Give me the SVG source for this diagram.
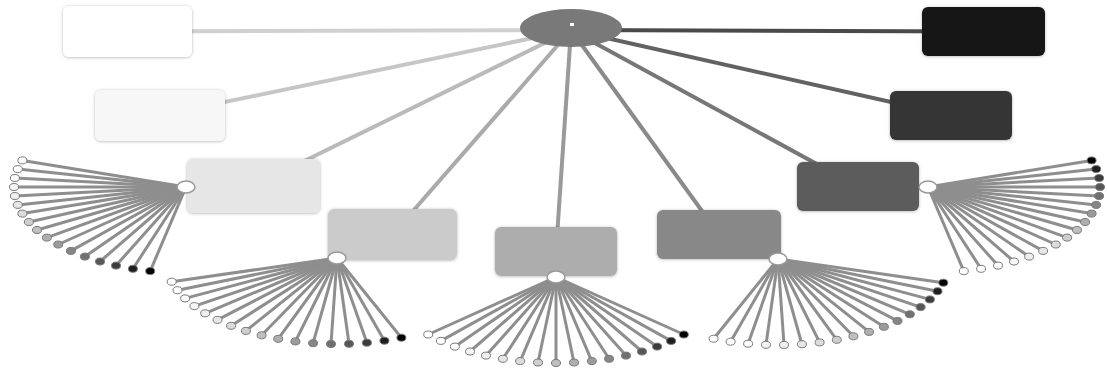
<svg xmlns="http://www.w3.org/2000/svg" width="1107" height="369" viewBox="0 0 1107 369">
<defs>
<filter id="sh" x="-10%" y="-15%" width="120%" height="135%">
<feDropShadow dx="0" dy="0.5" stdDeviation="1.4" flood-color="#000" flood-opacity="0.3"/>
</filter>
<style>
.main line{stroke-width:4;stroke-linecap:butt}
.node rect{filter:url(#sh)}
.sp line{stroke:#8e8e8e;stroke-width:3}
.hub{fill:#fff;stroke:#999;stroke-width:1.5}
.lf ellipse{stroke:#7a7a7a;stroke-width:1}
.c0{fill:#ffffff}.c1{fill:#fefefe}.c2{fill:#fbfbfb}.c3{fill:#f6f6f6}.c4{fill:#efefef}.c5{fill:#e6e6e6}.c6{fill:#dbdbdb}.c7{fill:#cecece}.c8{fill:#bfbfbf}.c9{fill:#aeaeae}.c10{fill:#9b9b9b}.c11{fill:#868686}.c12{fill:#707070}.c13{fill:#575757}.c14{fill:#3c3c3c}.c15{fill:#1f1f1f}.c16{fill:#000000}
</style>
</defs>
<rect width="1107" height="369" fill="#fff"/>
<g id="connectors" class="main">
<line x1="571" y1="30" x2="127.5" y2="31.5" stroke="#d0d0d0"/>
<line x1="571" y1="30" x2="160" y2="115.5" stroke="#c6c6c6"/>
<line x1="571" y1="30" x2="253.5" y2="186" stroke="#bababa"/>
<line x1="571" y1="30" x2="392.5" y2="234.5" stroke="#aaaaaa"/>
<line x1="571" y1="30" x2="556" y2="251.5" stroke="#9a9a9a"/>
<line x1="571" y1="30" x2="719" y2="234.5" stroke="#8a8a8a"/>
<line x1="571" y1="30" x2="858" y2="186.5" stroke="#777777"/>
<line x1="571" y1="30" x2="951" y2="115.5" stroke="#626262"/>
<line x1="571" y1="30" x2="983.5" y2="31.5" stroke="#4a4a4a"/>
</g>
<g id="root">
<ellipse cx="571" cy="28" rx="51" ry="19" fill="#797979"/>
<rect x="570" y="23" width="4" height="3" fill="#fff"/>
</g>
<g id="n1" class="node"><rect x="63" y="6" width="129" height="51" rx="6" fill="#ffffff"/></g>
<g id="n2" class="node"><rect x="95" y="90" width="130" height="51" rx="6" fill="#f7f7f7"/></g>
<g id="n3" class="node"><rect x="187" y="159" width="133" height="54" rx="6" fill="#e6e6e6"/></g>
<g id="n4" class="node"><rect x="328" y="209" width="129" height="51" rx="6" fill="#cbcbcb"/></g>
<g id="n5" class="node"><rect x="495" y="227" width="122" height="49" rx="6" fill="#adadad"/></g>
<g id="n6" class="node"><rect x="657" y="210" width="124" height="49" rx="6" fill="#888888"/></g>
<g id="n7" class="node"><rect x="797" y="162" width="122" height="49" rx="6" fill="#5c5c5c"/></g>
<g id="n8" class="node"><rect x="890" y="91" width="122" height="49" rx="6" fill="#353535"/></g>
<g id="n9" class="node"><rect x="922" y="7" width="123" height="49" rx="6" fill="#151515"/></g>

<g id="fan1" transform="translate(186,187)">
<g class="sp">
<line x1="0" y1="0" x2="-163.6" y2="-26.6"/><line x1="0" y1="0" x2="-168.2" y2="-17.9"/><line x1="0" y1="0" x2="-171.1" y2="-9"/><line x1="0" y1="0" x2="-172" y2="0"/><line x1="0" y1="0" x2="-171.1" y2="9"/><line x1="0" y1="0" x2="-168.2" y2="17.9"/><line x1="0" y1="0" x2="-163.6" y2="26.6"/><line x1="0" y1="0" x2="-157.1" y2="35"/><line x1="0" y1="0" x2="-149" y2="43"/><line x1="0" y1="0" x2="-139.1" y2="50.6"/><line x1="0" y1="0" x2="-127.8" y2="57.5"/><line x1="0" y1="0" x2="-115.1" y2="63.9"/><line x1="0" y1="0" x2="-101.1" y2="69.6"/><line x1="0" y1="0" x2="-86" y2="74.5"/><line x1="0" y1="0" x2="-70" y2="78.6"/><line x1="0" y1="0" x2="-53.1" y2="81.8"/><line x1="0" y1="0" x2="-35.8" y2="84.1"/>
</g>
<g class="lf">
<ellipse class="c0" cx="-163.6" cy="-26.6" rx="4.5" ry="3.5"/><ellipse class="c1" cx="-168.2" cy="-17.9" rx="4.5" ry="3.5"/><ellipse class="c2" cx="-171.1" cy="-9" rx="4.5" ry="3.5"/><ellipse class="c3" cx="-172" cy="0" rx="4.5" ry="3.5"/><ellipse class="c4" cx="-171.1" cy="9" rx="4.5" ry="3.5"/><ellipse class="c5" cx="-168.2" cy="17.9" rx="4.5" ry="3.5"/><ellipse class="c6" cx="-163.6" cy="26.6" rx="4.5" ry="3.5"/><ellipse class="c7" cx="-157.1" cy="35" rx="4.5" ry="3.5"/><ellipse class="c8" cx="-149" cy="43" rx="4.5" ry="3.5"/><ellipse class="c9" cx="-139.1" cy="50.6" rx="4.5" ry="3.5"/><ellipse class="c10" cx="-127.8" cy="57.5" rx="4.5" ry="3.5"/><ellipse class="c11" cx="-115.1" cy="63.9" rx="4.5" ry="3.5"/><ellipse class="c12" cx="-101.1" cy="69.6" rx="4.5" ry="3.5"/><ellipse class="c13" cx="-86" cy="74.5" rx="4.5" ry="3.5"/><ellipse class="c14" cx="-70" cy="78.6" rx="4.5" ry="3.5"/><ellipse class="c15" cx="-53.1" cy="81.8" rx="4.5" ry="3.5"/><ellipse class="c16" cx="-35.8" cy="84.1" rx="4.5" ry="3.5"/>
</g>
<ellipse class="hub" cx="0" cy="0" rx="9" ry="6"/>
</g>

<g id="fan2" transform="translate(337,258)">
<g class="sp">
<line x1="0" y1="0" x2="-165.3" y2="23.7"/><line x1="0" y1="0" x2="-159.5" y2="32.2"/><line x1="0" y1="0" x2="-151.9" y2="40.4"/><line x1="0" y1="0" x2="-142.6" y2="48.1"/><line x1="0" y1="0" x2="-131.8" y2="55.3"/><line x1="0" y1="0" x2="-119.5" y2="61.9"/><line x1="0" y1="0" x2="-105.9" y2="67.8"/><line x1="0" y1="0" x2="-91.1" y2="72.9"/><line x1="0" y1="0" x2="-75.4" y2="77.3"/><line x1="0" y1="0" x2="-58.8" y2="80.8"/><line x1="0" y1="0" x2="-41.6" y2="83.4"/><line x1="0" y1="0" x2="-23.9" y2="85.2"/><line x1="0" y1="0" x2="-6" y2="85.9"/><line x1="0" y1="0" x2="12" y2="85.8"/><line x1="0" y1="0" x2="29.9" y2="84.7"/><line x1="0" y1="0" x2="47.4" y2="82.7"/><line x1="0" y1="0" x2="64.4" y2="79.7"/>
</g>
<g class="lf">
<ellipse class="c0" cx="-165.3" cy="23.7" rx="4.5" ry="3.5"/><ellipse class="c1" cx="-159.5" cy="32.2" rx="4.5" ry="3.5"/><ellipse class="c2" cx="-151.9" cy="40.4" rx="4.5" ry="3.5"/><ellipse class="c3" cx="-142.6" cy="48.1" rx="4.5" ry="3.5"/><ellipse class="c4" cx="-131.8" cy="55.3" rx="4.5" ry="3.5"/><ellipse class="c5" cx="-119.5" cy="61.9" rx="4.5" ry="3.5"/><ellipse class="c6" cx="-105.9" cy="67.8" rx="4.5" ry="3.5"/><ellipse class="c7" cx="-91.1" cy="72.9" rx="4.5" ry="3.5"/><ellipse class="c8" cx="-75.4" cy="77.3" rx="4.5" ry="3.5"/><ellipse class="c9" cx="-58.8" cy="80.8" rx="4.5" ry="3.5"/><ellipse class="c10" cx="-41.6" cy="83.4" rx="4.5" ry="3.5"/><ellipse class="c11" cx="-23.9" cy="85.2" rx="4.5" ry="3.5"/><ellipse class="c12" cx="-6" cy="85.9" rx="4.5" ry="3.5"/><ellipse class="c13" cx="12" cy="85.8" rx="4.5" ry="3.5"/><ellipse class="c14" cx="29.9" cy="84.7" rx="4.5" ry="3.5"/><ellipse class="c15" cx="47.4" cy="82.7" rx="4.5" ry="3.5"/><ellipse class="c16" cx="64.4" cy="79.7" rx="4.5" ry="3.5"/>
</g>
<ellipse class="hub" cx="0" cy="0" rx="9" ry="6"/>
</g>

<g id="fan3" transform="translate(556,277)">
<g class="sp">
<line x1="0" y1="0" x2="-127.8" y2="57.5"/><line x1="0" y1="0" x2="-115.1" y2="63.9"/><line x1="0" y1="0" x2="-101.1" y2="69.6"/><line x1="0" y1="0" x2="-86" y2="74.5"/><line x1="0" y1="0" x2="-70" y2="78.6"/><line x1="0" y1="0" x2="-53.1" y2="81.8"/><line x1="0" y1="0" x2="-35.8" y2="84.1"/><line x1="0" y1="0" x2="-18" y2="85.5"/><line x1="0" y1="0" x2="0" y2="86"/><line x1="0" y1="0" x2="18" y2="85.5"/><line x1="0" y1="0" x2="35.8" y2="84.1"/><line x1="0" y1="0" x2="53.1" y2="81.8"/><line x1="0" y1="0" x2="70" y2="78.6"/><line x1="0" y1="0" x2="86" y2="74.5"/><line x1="0" y1="0" x2="101.1" y2="69.6"/><line x1="0" y1="0" x2="115.1" y2="63.9"/><line x1="0" y1="0" x2="127.8" y2="57.5"/>
</g>
<g class="lf">
<ellipse class="c0" cx="-127.8" cy="57.5" rx="4.5" ry="3.5"/><ellipse class="c1" cx="-115.1" cy="63.9" rx="4.5" ry="3.5"/><ellipse class="c2" cx="-101.1" cy="69.6" rx="4.5" ry="3.5"/><ellipse class="c3" cx="-86" cy="74.5" rx="4.5" ry="3.5"/><ellipse class="c4" cx="-70" cy="78.6" rx="4.5" ry="3.5"/><ellipse class="c5" cx="-53.1" cy="81.8" rx="4.5" ry="3.5"/><ellipse class="c6" cx="-35.8" cy="84.1" rx="4.5" ry="3.5"/><ellipse class="c7" cx="-18" cy="85.5" rx="4.5" ry="3.5"/><ellipse class="c8" cx="0" cy="86" rx="4.5" ry="3.5"/><ellipse class="c9" cx="18" cy="85.5" rx="4.5" ry="3.5"/><ellipse class="c10" cx="35.8" cy="84.1" rx="4.5" ry="3.5"/><ellipse class="c11" cx="53.1" cy="81.8" rx="4.5" ry="3.5"/><ellipse class="c12" cx="70" cy="78.6" rx="4.5" ry="3.5"/><ellipse class="c13" cx="86" cy="74.5" rx="4.5" ry="3.5"/><ellipse class="c14" cx="101.1" cy="69.6" rx="4.5" ry="3.5"/><ellipse class="c15" cx="115.1" cy="63.9" rx="4.5" ry="3.5"/><ellipse class="c16" cx="127.8" cy="57.5" rx="4.5" ry="3.5"/>
</g>
<ellipse class="hub" cx="0" cy="0" rx="9" ry="6"/>
</g>

<g id="fan4" transform="translate(778,259)">
<g class="sp">
<line x1="0" y1="0" x2="-64.4" y2="79.7"/><line x1="0" y1="0" x2="-47.4" y2="82.7"/><line x1="0" y1="0" x2="-29.9" y2="84.7"/><line x1="0" y1="0" x2="-12" y2="85.8"/><line x1="0" y1="0" x2="6" y2="85.9"/><line x1="0" y1="0" x2="23.9" y2="85.2"/><line x1="0" y1="0" x2="41.6" y2="83.4"/><line x1="0" y1="0" x2="58.8" y2="80.8"/><line x1="0" y1="0" x2="75.4" y2="77.3"/><line x1="0" y1="0" x2="91.1" y2="72.9"/><line x1="0" y1="0" x2="105.9" y2="67.8"/><line x1="0" y1="0" x2="119.5" y2="61.9"/><line x1="0" y1="0" x2="131.8" y2="55.3"/><line x1="0" y1="0" x2="142.6" y2="48.1"/><line x1="0" y1="0" x2="151.9" y2="40.4"/><line x1="0" y1="0" x2="159.5" y2="32.2"/><line x1="0" y1="0" x2="165.3" y2="23.7"/>
</g>
<g class="lf">
<ellipse class="c0" cx="-64.4" cy="79.7" rx="4.5" ry="3.5"/><ellipse class="c1" cx="-47.4" cy="82.7" rx="4.5" ry="3.5"/><ellipse class="c2" cx="-29.9" cy="84.7" rx="4.5" ry="3.5"/><ellipse class="c3" cx="-12" cy="85.8" rx="4.5" ry="3.5"/><ellipse class="c4" cx="6" cy="85.9" rx="4.5" ry="3.5"/><ellipse class="c5" cx="23.9" cy="85.2" rx="4.5" ry="3.5"/><ellipse class="c6" cx="41.6" cy="83.4" rx="4.5" ry="3.5"/><ellipse class="c7" cx="58.8" cy="80.8" rx="4.5" ry="3.5"/><ellipse class="c8" cx="75.4" cy="77.3" rx="4.5" ry="3.5"/><ellipse class="c9" cx="91.1" cy="72.9" rx="4.5" ry="3.5"/><ellipse class="c10" cx="105.9" cy="67.8" rx="4.5" ry="3.5"/><ellipse class="c11" cx="119.5" cy="61.9" rx="4.5" ry="3.5"/><ellipse class="c12" cx="131.8" cy="55.3" rx="4.5" ry="3.5"/><ellipse class="c13" cx="142.6" cy="48.1" rx="4.5" ry="3.5"/><ellipse class="c14" cx="151.9" cy="40.4" rx="4.5" ry="3.5"/><ellipse class="c15" cx="159.5" cy="32.2" rx="4.5" ry="3.5"/><ellipse class="c16" cx="165.3" cy="23.7" rx="4.5" ry="3.5"/>
</g>
<ellipse class="hub" cx="0" cy="0" rx="9" ry="6"/>
</g>

<g id="fan5" transform="translate(928,187)">
<g class="sp">
<line x1="0" y1="0" x2="35.8" y2="84.1"/><line x1="0" y1="0" x2="53.1" y2="81.8"/><line x1="0" y1="0" x2="70" y2="78.6"/><line x1="0" y1="0" x2="86" y2="74.5"/><line x1="0" y1="0" x2="101.1" y2="69.6"/><line x1="0" y1="0" x2="115.1" y2="63.9"/><line x1="0" y1="0" x2="127.8" y2="57.5"/><line x1="0" y1="0" x2="139.1" y2="50.6"/><line x1="0" y1="0" x2="149" y2="43"/><line x1="0" y1="0" x2="157.1" y2="35"/><line x1="0" y1="0" x2="163.6" y2="26.6"/><line x1="0" y1="0" x2="168.2" y2="17.9"/><line x1="0" y1="0" x2="171.1" y2="9"/><line x1="0" y1="0" x2="172" y2="0"/><line x1="0" y1="0" x2="171.1" y2="-9"/><line x1="0" y1="0" x2="168.2" y2="-17.9"/><line x1="0" y1="0" x2="163.6" y2="-26.6"/>
</g>
<g class="lf">
<ellipse class="c0" cx="35.8" cy="84.1" rx="4.5" ry="3.5"/><ellipse class="c1" cx="53.1" cy="81.8" rx="4.5" ry="3.5"/><ellipse class="c2" cx="70" cy="78.6" rx="4.5" ry="3.5"/><ellipse class="c3" cx="86" cy="74.5" rx="4.5" ry="3.5"/><ellipse class="c4" cx="101.1" cy="69.6" rx="4.5" ry="3.5"/><ellipse class="c5" cx="115.1" cy="63.9" rx="4.5" ry="3.5"/><ellipse class="c6" cx="127.8" cy="57.5" rx="4.5" ry="3.5"/><ellipse class="c7" cx="139.1" cy="50.6" rx="4.5" ry="3.5"/><ellipse class="c8" cx="149" cy="43" rx="4.5" ry="3.5"/><ellipse class="c9" cx="157.1" cy="35" rx="4.5" ry="3.5"/><ellipse class="c10" cx="163.6" cy="26.6" rx="4.5" ry="3.5"/><ellipse class="c11" cx="168.2" cy="17.9" rx="4.5" ry="3.5"/><ellipse class="c12" cx="171.1" cy="9" rx="4.5" ry="3.5"/><ellipse class="c13" cx="172" cy="0" rx="4.5" ry="3.5"/><ellipse class="c14" cx="171.1" cy="-9" rx="4.5" ry="3.5"/><ellipse class="c15" cx="168.2" cy="-17.9" rx="4.5" ry="3.5"/><ellipse class="c16" cx="163.6" cy="-26.6" rx="4.5" ry="3.5"/>
</g>
<ellipse class="hub" cx="0" cy="0" rx="9" ry="6"/>
</g>
</svg>
